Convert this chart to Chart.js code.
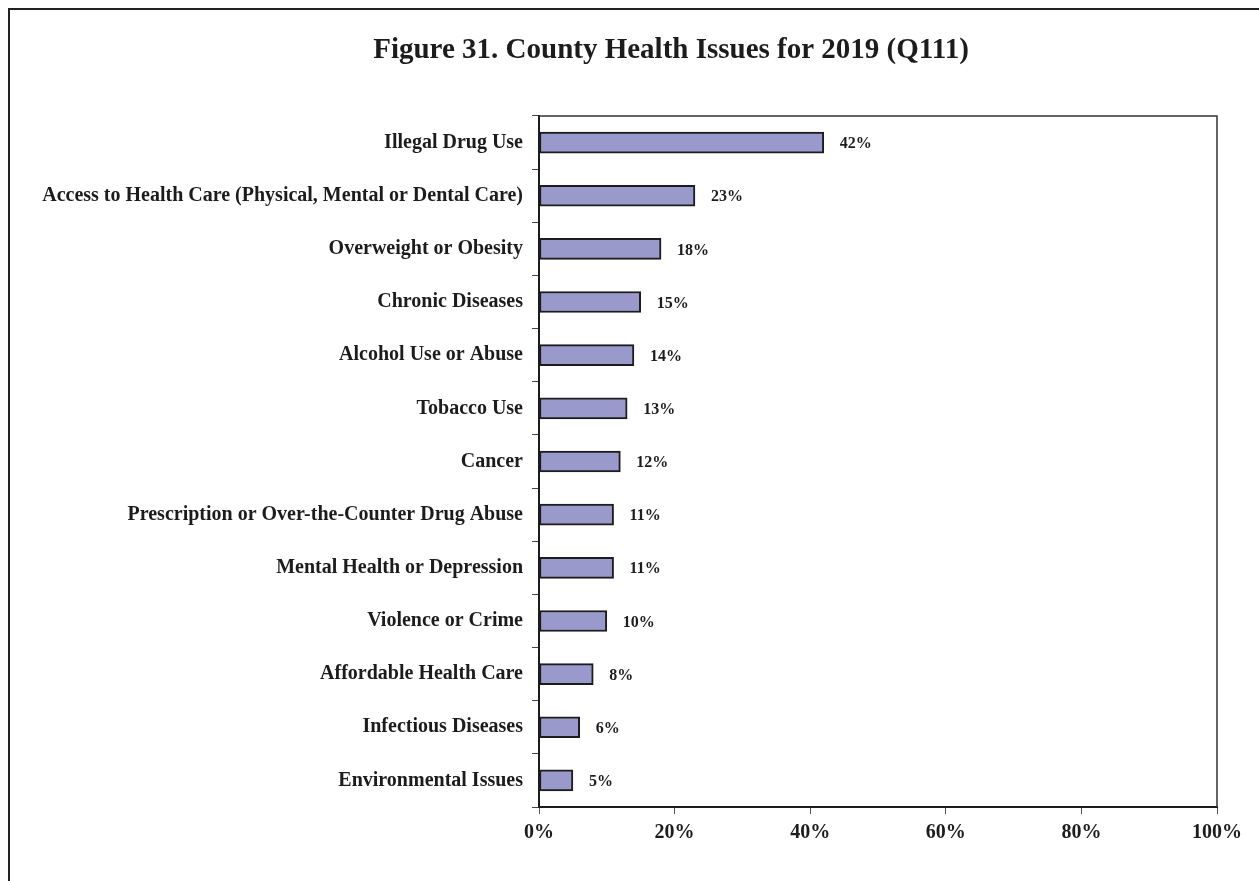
<!DOCTYPE html>
<html>
<head>
<meta charset="utf-8">
<title>County Health Issues for 2019</title>
<script src="https://cdn.jsdelivr.net/npm/chart.js@4/dist/chart.umd.min.js"></script>
<style>
  html, body { margin: 0; padding: 0; background: #fff; }
  #wrap { position: relative; width: 1259px; height: 881px; overflow: hidden; }
  #frame {
    position: absolute; left: 8px; top: 8px; width: 1300px; height: 900px;
    border-left: 2px solid #222; border-top: 2px solid #222; box-sizing: border-box;
  }
  canvas { position: absolute; left: 0; top: 0; }
</style>
</head>
<body>
<div id="wrap">
  <div id="frame"></div>
  <canvas id="issuesChart" width="1259" height="881"></canvas>
</div>
<script>
// Share of respondents naming each issue (Q111)
const issues = [
    'Illegal Drug Use',
    'Access to Health Care (Physical, Mental or Dental Care)',
    'Overweight or Obesity',
    'Chronic Diseases',
    'Alcohol Use or Abuse',
    'Tobacco Use',
    'Cancer',
    'Prescription or Over-the-Counter Drug Abuse',
    'Mental Health or Depression',
    'Violence or Crime',
    'Affordable Health Care',
    'Infectious Diseases',
    'Environmental Issues',
];
const percents = [42, 23, 18, 15, 14, 13, 12, 11, 11, 10, 8, 6, 5];
const xTicks = [0, 20, 40, 60, 80, 100];

const TITLE = 'Figure 31. County Health Issues for 2019 (Q111)';
const FONT = '"Liberation Serif", "Times New Roman", serif';
const INK = '#1c1c1c';

// Heading, centred on the framed figure (its frame runs past the page edge)
const heading = {
    id: 'heading',
    afterDraw(chart) {
        const { ctx } = chart;
        ctx.save();
        ctx.font = 'bold 29px ' + FONT;
        ctx.fillStyle = INK;
        ctx.textAlign = 'center';
        ctx.textBaseline = 'alphabetic';
        ctx.fillText(TITLE, 671, 58);
        ctx.restore();
    },
};

// Box round the plot area (top and right sides are not drawn by the axes)
const plotBox = {
    id: 'plotBox',
    afterDatasetsDraw(chart) {
        const { ctx, chartArea: a } = chart;
        ctx.save();
        ctx.strokeStyle = '#333';
        ctx.lineWidth = 1.5;
        ctx.beginPath();
        ctx.moveTo(a.left, a.top);
        ctx.lineTo(a.right, a.top);
        ctx.lineTo(a.right, a.bottom);
        ctx.stroke();
        ctx.restore();
    },
};

// Percent labels to the right of each bar
const barLabels = {
    id: 'barLabels',
    afterDatasetsDraw(chart) {
        const { ctx } = chart;
        const meta = chart.getDatasetMeta(0);
        ctx.save();
        ctx.font = 'bold 16px ' + FONT;
        ctx.fillStyle = INK;
        ctx.textAlign = 'left';
        ctx.textBaseline = 'middle';
        meta.data.forEach((bar, i) => {
            ctx.fillText(percents[i] + '%', bar.x + 16, bar.y + 1.5);
        });
        ctx.restore();
    },
};

const ctx = document.getElementById('issuesChart').getContext('2d');
new Chart(ctx, {
    type: 'bar',
    data: {
        labels: issues,
        datasets: [{
            data: percents,
            backgroundColor: '#9999cc',
            borderColor: INK,
            borderWidth: 2,
            borderSkipped: false,
            barThickness: 21,
        }],
    },
    options: {
        indexAxis: 'y',
        responsive: false,
        animation: false,
        layout: { padding: { left: 0, right: 42, top: 116, bottom: 0 } },
        plugins: {
            legend: { display: false },
            tooltip: { enabled: false },
            title: { display: false },
        },
        scales: {
            x: {
                min: 0,
                max: 100,
                afterBuildTicks(scale) {
                    scale.ticks = xTicks.map(v => ({ value: v }));
                },
                afterFit(scale) { scale.height = 74; },
                border: { display: true, color: INK, width: 2 },
                grid: { drawOnChartArea: false, drawTicks: true, tickLength: 7, color: '#555' },
                ticks: {
                    color: INK,
                    padding: 7,
                    font: { family: FONT, size: 20, weight: 'bold' },
                    callback: v => v + '%',
                },
            },
            y: {
                afterFit(scale) { scale.width = 539; },
                border: { display: true, color: INK, width: 2 },
                grid: { offset: true, drawOnChartArea: false, drawTicks: true, tickLength: 7, color: '#444' },
                ticks: {
                    color: INK,
                    padding: 9,
                    autoSkip: false,
                    font: { family: FONT, size: 20, weight: 'bold' },
                },
            },
        },
    },
    plugins: [plotBox, barLabels, heading],
});
</script>
</body>
</html>
